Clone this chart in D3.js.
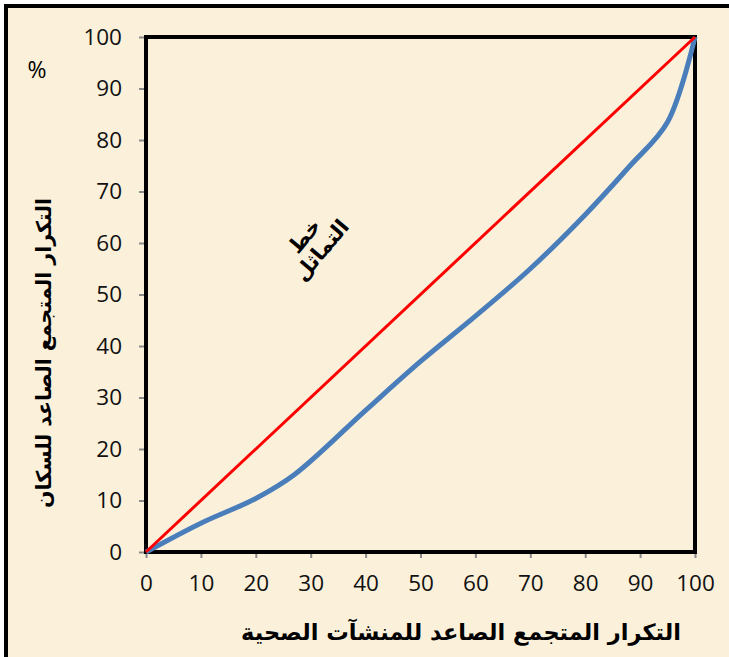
<!DOCTYPE html>
<html lang="ar">
<head>
  <meta charset="UTF-8">
  <title>Lorenz curve</title>
  <script src="https://d3js.org/d3.v7.min.js"></script>
  <style>
    body { margin: 0; background: #fff; }
    .tick text { font-family: "Open Sans", sans-serif; font-size: 22.5px; fill: #111; }
    .tick line { stroke: #8a8a8a; stroke-width: 2; }
    .axis-title { font-family: "DejaVu Sans", sans-serif; font-weight: bold; fill: #000; }
  </style>
</head>
<body>
  <div id="chart"></div>
  <script>
    // cumulative share of health facilities (x) vs population (y)
    const facilitiesCum = [0, 10, 20, 27, 40, 50, 60, 70, 80, 88, 95, 100];
    const populationCum = [0, 5.6, 10.4, 15, 27.5, 37, 45.8, 55, 65.5, 74.8, 83.5, 100];
    const equalityLine = [[0, 0], [100, 100]];
    const tickValues = [0, 10, 20, 30, 40, 50, 60, 70, 80, 90, 100];

    const W = 729, H = 657;
    const plot = { left: 146, right: 695, top: 37, bottom: 552 };

    const svg = d3.select("#chart").append("svg")
      .attr("width", W)
      .attr("height", H);

    // page background + outer frame
    svg.append("rect").attr("x", 0).attr("y", 0).attr("width", W).attr("height", H).attr("fill", "#fff");
    svg.append("rect")
      .attr("x", 6).attr("y", 6).attr("width", W + 10).attr("height", H + 10)
      .attr("fill", "#fbf0da")
      .attr("stroke", "#000").attr("stroke-width", 4);

    const x = d3.scaleLinear().domain([0, 100]).range([plot.left, plot.right]);
    const y = d3.scaleLinear().domain([0, 100]).range([plot.bottom, plot.top]);

    // axes (ticks only, frame drawn separately)
    const gx = svg.append("g")
      .attr("transform", `translate(0,${plot.bottom})`)
      .call(d3.axisBottom(x).tickValues(tickValues).tickSize(6).tickPadding(17));
    gx.select(".domain").remove();

    const gy = svg.append("g")
      .attr("transform", `translate(${plot.left},0)`)
      .call(d3.axisLeft(y).tickValues(tickValues).tickSize(7).tickPadding(17));
    gy.select(".domain").remove();

    // plot frame
    svg.append("rect")
      .attr("x", plot.left).attr("y", plot.top)
      .attr("width", plot.right - plot.left).attr("height", plot.bottom - plot.top)
      .attr("fill", "none").attr("stroke", "#000").attr("stroke-width", 4);

    const line = d3.line()
      .x(d => x(d[0]))
      .y(d => y(d[1]));

    const lorenz = facilitiesCum.map((v, i) => [v, populationCum[i]]);

    svg.append("path")
      .datum(lorenz)
      .attr("fill", "none")
      .attr("stroke", "#4a7ebb")
      .attr("stroke-width", 5)
      .attr("d", line.curve(d3.curveCatmullRom.alpha(0.5)));

    svg.append("path")
      .datum(equalityLine)
      .attr("fill", "none")
      .attr("stroke", "#ff0000")
      .attr("stroke-width", 3)
      .attr("d", line.curve(d3.curveLinear));

    // equality line annotation
    const note = svg.append("text")
      .attr("class", "axis-title")
      .attr("transform", "translate(314,244) rotate(-50)")
      .attr("text-anchor", "middle")
      .attr("font-size", 21);
    note.append("tspan").attr("x", 0).attr("dy", "-0.25em").text("خط");
    note.append("tspan").attr("x", 0).attr("dy", "1.05em").text("التماثل");

    // axis titles
    svg.append("text")
      .attr("class", "axis-title")
      .attr("x", 461).attr("y", 640)
      .attr("text-anchor", "middle")
      .attr("font-size", 22.5)
      .text("التكرار المتجمع الصاعد للمنشآت الصحية");

    svg.append("text")
      .attr("class", "axis-title")
      .attr("transform", "translate(51,353) rotate(-90)")
      .attr("text-anchor", "middle")
      .attr("font-size", 20.5)
      .text("التكرار المتجمع الصاعد للسكان");

    svg.append("text")
      .attr("x", 37).attr("y", 78)
      .attr("text-anchor", "middle")
      .attr("font-family", "Open Sans, sans-serif")
      .attr("font-size", 23)
      .text("%");
  </script>
</body>
</html>
